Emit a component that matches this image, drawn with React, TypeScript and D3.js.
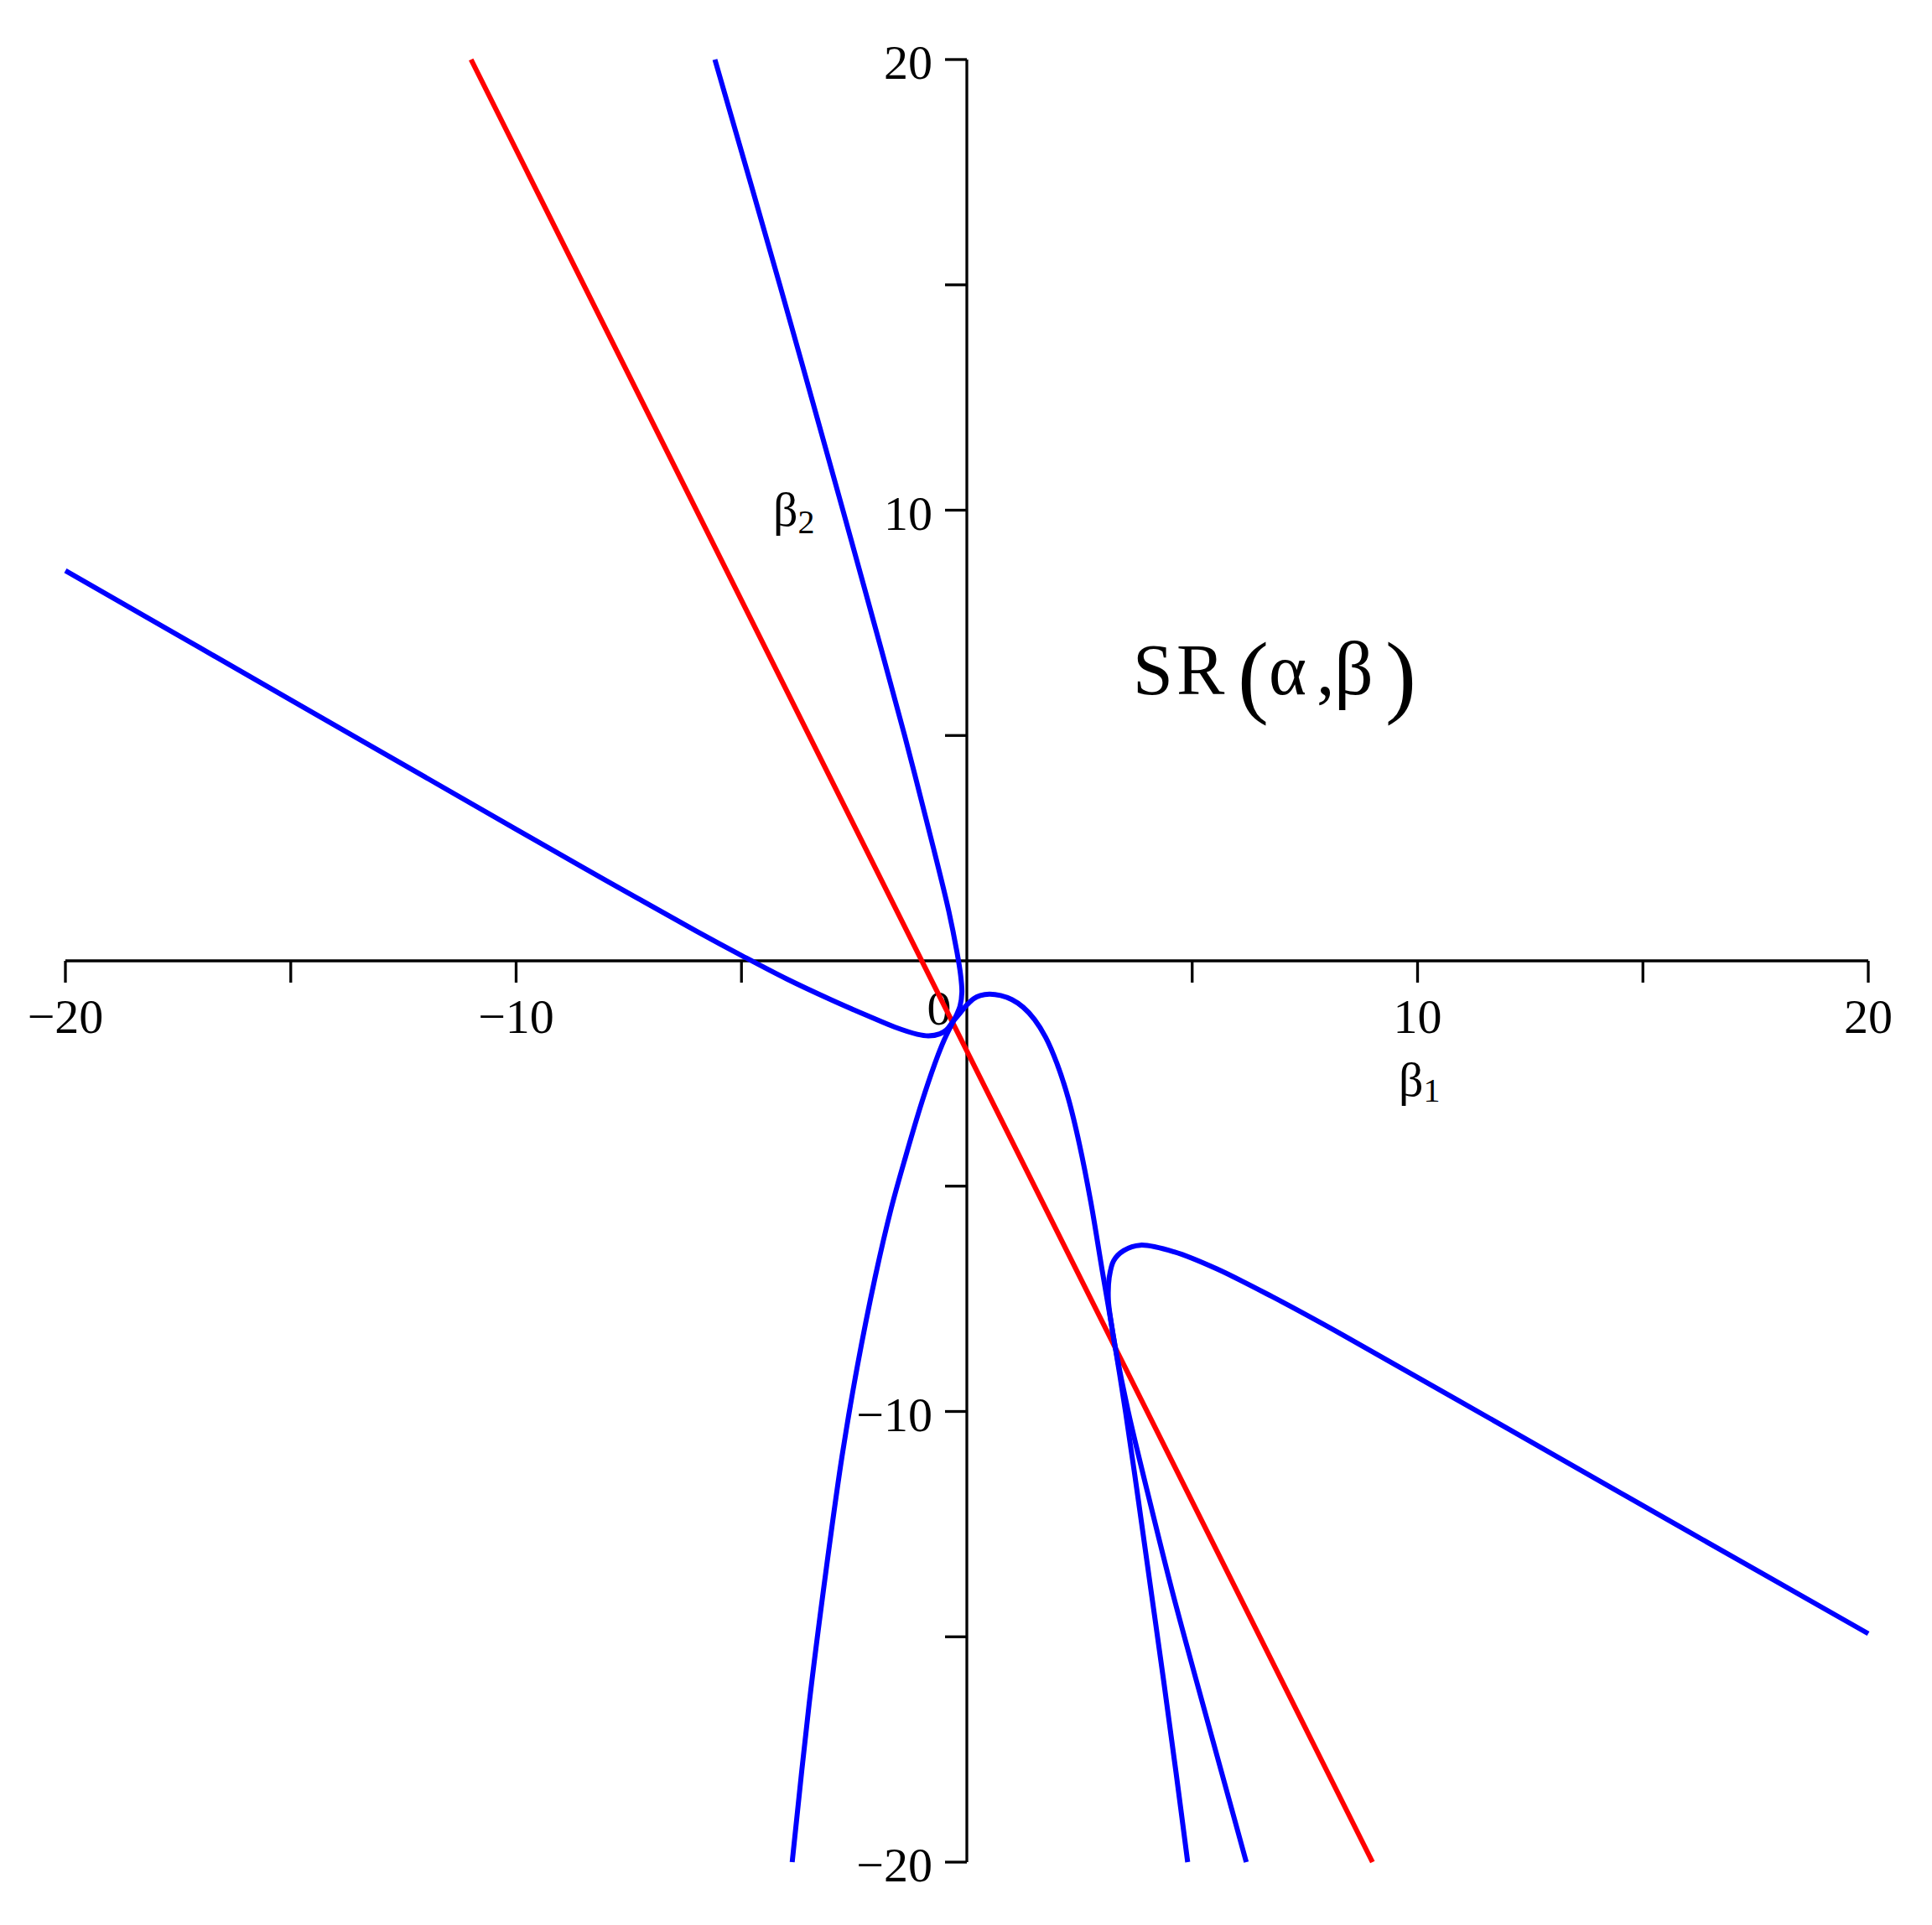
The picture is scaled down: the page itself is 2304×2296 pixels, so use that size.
import React, { useEffect, useRef } from "react";
import * as d3 from "d3";

// axis setup
const xDomain = [-20, 20];
const yDomain = [-20, 20];
const xTicks = [-20, -15, -10, -5, 5, 10, 15, 20];
const yTicks = [-20, -15, -10, -5, 5, 10, 15, 20];
const xTickLabels = [-20, -10, 10, 20];
const yTickLabels = [-20, -10, 10, 20];

// red line
const redLine = [
  [-11, 20],
  [9, -20],
];

// blue curve: left arm -> dip -> bump -> steep line down
const branchP = [
  [-20, 8.66], [-15, 5.79], [-10, 2.92], [-8, 1.78], [-6, 0.66], [-5, 0.12],
  [-4, -0.4], [-3, -0.87], [-2.2, -1.22], [-1.6, -1.47], [-1.1, -1.63],
  [-0.85, -1.665], [-0.6, -1.62], [-0.45, -1.53], [-0.32, -1.36], [-0.15, -1.16],
  [0, -0.98], [0.15, -0.84], [0.3, -0.77], [0.5, -0.74], [0.75, -0.77],
  [1.0, -0.86], [1.25, -1.03], [1.5, -1.3], [1.75, -1.7], [2.0, -2.28],
  [2.25, -3.05], [2.5, -4.08], [2.75, -5.35], [3.0, -6.85], [3.29, -8.56],
  [3.52, -10], [3.81, -12], [4.09, -14], [4.37, -16], [4.64, -18], [4.9, -20],
];

// blue curve: top arm -> bend near origin -> bottom arm
const branchQ = [
  [-5.59, 20], [-4.15, 15], [-2.75, 10], [-2.06, 7.5], [-1.38, 5], [-0.74, 2.5],
  [-0.4, 1.1], [-0.22, 0.2], [-0.14, -0.3], [-0.11, -0.7], [-0.15, -1.0],
  [-0.22, -1.18], [-0.34, -1.42], [-0.5, -1.75], [-0.68, -2.2], [-0.99, -3.11],
  [-1.36, -4.35], [-1.68, -5.5], [-2.03, -7], [-2.43, -9], [-2.77, -11],
  [-3.12, -13.5], [-3.5, -16.5], [-3.875, -20],
];

// blue curve: right arm -> hook -> down
const branchHook = [
  [20, -14.93], [16, -12.66], [12, -10.38], [8.32, -8.29], [6.77, -7.45],
  [5.53, -6.83], [4.6, -6.46], [3.85, -6.31], [3.48, -6.43], [3.26, -6.65],
  [3.16, -7.02], [3.14, -7.52], [3.2, -8.01], [3.29, -8.56], [3.58, -10],
  [4.06, -12], [4.56, -14], [5.1, -16], [5.65, -18], [6.2, -20],
];

const W = 2304;
const H = 2296;
const FONT = '"Liberation Serif", "Times New Roman", serif';

export default function App() {
  const ref = useRef<SVGSVGElement>(null);

  useEffect(() => {
    const svg = d3.select(ref.current);
    svg.selectAll("*").remove();

    const x = d3.scaleLinear().domain(xDomain).range([78, 2228]);
    const y = d3.scaleLinear().domain(yDomain).range([2221, 71]);

    svg.append("defs").append("clipPath").attr("id", "plotclip")
      .append("rect")
      .attr("x", x(-20) - 4).attr("y", y(20) - 4)
      .attr("width", x(20) - x(-20) + 8).attr("height", y(-20) - y(20) + 8);

    // axes
    const axes = svg.append("g").attr("stroke", "#000").attr("stroke-width", 3.3).attr("fill", "none");
    axes.append("line").attr("x1", x(-20)).attr("x2", x(20)).attr("y1", y(0)).attr("y2", y(0));
    axes.append("line").attr("x1", x(0)).attr("x2", x(0)).attr("y1", y(-20)).attr("y2", y(20));

    axes.selectAll(".xt").data(xTicks).enter().append("line")
      .attr("x1", (d) => x(d)).attr("x2", (d) => x(d))
      .attr("y1", y(0)).attr("y2", y(0) + 26);

    axes.selectAll(".yt").data(yTicks).enter().append("line")
      .attr("y1", (d) => y(d)).attr("y2", (d) => y(d))
      .attr("x1", x(0)).attr("x2", x(0) - 26);

    const fmt = (v: number) => (v < 0 ? "\u2212" + Math.abs(v) : String(v));

    const labels = svg.append("g").attr("font-family", FONT).attr("font-size", 58).attr("fill", "#000");
    labels.selectAll(".xl").data(xTickLabels).enter().append("text")
      .attr("x", (d) => x(d)).attr("y", 1232)
      .attr("text-anchor", "middle")
      .text(fmt);

    labels.selectAll(".yl").data(yTickLabels).enter().append("text")
      .attr("x", x(0) - 41).attr("y", (d) => y(d) + 23)
      .attr("text-anchor", "end")
      .text(fmt);

    labels.append("text").attr("x", 1120).attr("y", 1222).attr("text-anchor", "middle").text("0");

    // axis names
    const b2 = labels.append("text").attr("x", 922).attr("y", 627);
    b2.append("tspan").text("β");
    b2.append("tspan").attr("font-size", 40).attr("dy", 9).text("2");

    const b1 = labels.append("text").attr("x", 1668).attr("y", 1307);
    b1.append("tspan").text("β");
    b1.append("tspan").attr("font-size", 40).attr("dy", 7).text("1");

    // title inside the plot, parens drawn larger like the original
    const title = labels.append("text").attr("font-size", 86);
    title.append("tspan").attr("x", 1351).attr("y", 828).text("S");
    title.append("tspan").attr("x", 1403).attr("y", 828).attr("textLength", 73).text("R");
    title.append("tspan").attr("x", 1476).attr("y", 842).attr("font-size", 111).text("(");
    title.append("tspan").attr("x", 1513).attr("y", 828).text("α");
    title.append("tspan").attr("x", 1570).attr("y", 828).text(",");
    title.append("tspan").attr("x", 1591).attr("y", 828).attr("font-size", 92).text("β");
    title.append("tspan").attr("x", 1652).attr("y", 842).attr("font-size", 111).text(")");

    // curves
    const line = d3.line<number[]>()
      .x((d) => x(d[0]))
      .y((d) => y(d[1]))
      .curve(d3.curveCatmullRom.alpha(0.5));

    const plot = svg.append("g").attr("clip-path", "url(#plotclip)").attr("fill", "none").attr("stroke-width", 6);

    plot.append("path").datum(redLine).attr("d", line).attr("stroke", "#ff0000");

    [branchP, branchQ, branchHook].forEach((b) => {
      plot.append("path").datum(b).attr("d", line).attr("stroke", "#0000ff").attr("stroke-linejoin", "round");
    });
  }, []);

  return (
    <svg
      ref={ref}
      width={W}
      height={H}
      style={{ position: "absolute", left: 0, top: 0, background: "#fff" }}
    />
  );
}
